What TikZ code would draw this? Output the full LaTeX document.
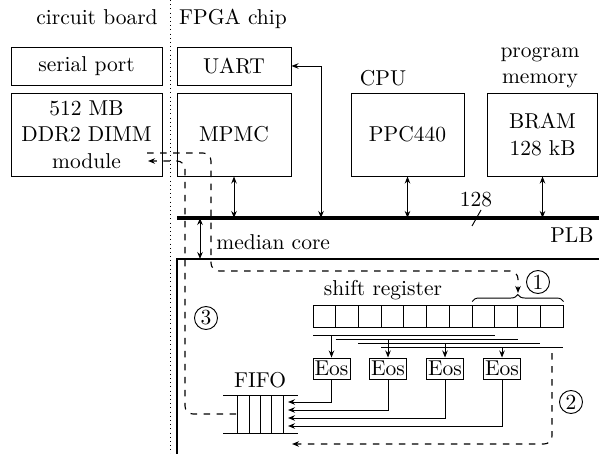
\documentclass[tikz,border=0pt]{standalone}
\usepackage{fontspec}
\setmainfont{lmroman10-regular.otf}
\usetikzlibrary{arrows.meta,decorations.pathreplacing,calc}
\begin{document}
\begin{tikzpicture}[x=1pt,y=-1pt, line width=0.95pt,
  font=\fontsize{21.5}{26.5}\selectfont,
  >={Stealth[length=7pt,width=5.5pt]},
  box/.style={draw, inner sep=0pt, align=center},
  lbl/.style={inner sep=0pt},
  dsh/.style={line width=1.1pt, dash pattern=on 6.5pt off 6.5pt},
  dots/.style={line width=0.8pt, dash pattern=on 0.8pt off 3.4pt},
  cnum/.style={draw, circle, inner sep=0pt, minimum size=23pt},
  cell/.style={draw, minimum width=22.73pt, minimum height=22pt, inner sep=0pt},
  eos/.style={draw, minimum width=37pt, minimum height=21pt, inner sep=0pt},
  bus/.style={line width=3.4pt},
  core/.style={line width=2.4pt},
]
\useasboundingbox (0,0) rectangle (599,454);

% board / chip separator
\coordinate (dotT) at (170,0);
\coordinate (dotB) at (170,454);
\draw[dots] (dotT) -- (dotB);
\node[lbl, anchor=base] (cb) at (97,25) {circuit board};
\node[lbl, anchor=base] (fc) at (233,25) {FPGA chip};

% boxes
\node[box, minimum width=151pt, minimum height=38pt] (serial) at (86.5,66) {serial port};
\node[box, minimum width=114pt, minimum height=38pt] (uart) at (234,66) {UART};
\node[box, minimum width=151pt, minimum height=83pt] (ddr) at (86.5,134.5) {512 MB\\DDR2 DIMM\\module};
\node[box, minimum width=114pt, minimum height=83pt] (mpmc) at (234,134.5) {MPMC};
\node[box, minimum width=113pt, minimum height=83pt] (ppc) at (407.5,134.5) {PPC440};
\node[box, minimum width=110pt, minimum height=83pt] (bram) at (542.5,134.5) {BRAM\\128 kB};

\node[lbl, anchor=base] (cpu) at (383,86) {CPU};
\node[lbl, anchor=base] (prog1) at (540,58) {program};
\node[lbl, anchor=base] (prog2) at (540,84) {memory};

% PLB bus
\coordinate (plbL) at (177,218);
\coordinate (plbR) at (599,218);
\draw[bus] (plbL) -- (plbR);
\node[lbl, anchor=base] (plb) at (572,243) {PLB};
\node[lbl, anchor=base] (w128) at (476,207) {128};
\coordinate (sl1) at (481,210);
\coordinate (sl2) at (472,226);
\draw (sl1) -- (sl2);

\draw[<->] (mpmc.south) -- (mpmc.south |- plbL);
\draw[<->] (ppc.south) -- (ppc.south |- plbL);
\draw[<->] (bram.south) -- (bram.south |- plbL);
\coordinate (ubus) at (321,218);
\draw[<->] (uart.east) -| (ubus);

% median core
\coordinate (mcB) at (177,454);
\coordinate (mcTL) at (177,259);
\coordinate (mcR) at (599,259);
\draw[core, line join=miter] (mcB) -- (mcTL) -- (mcR);
\coordinate (mcA) at (200,259);
\coordinate (mcP) at (200,218);
\draw[<->] (mcP) -- (mcA);
\node[lbl, anchor=base west] (mc) at (216,250) {median core};

% shift register
\foreach \i in {0,...,10}
  \node[cell] (c\i) at ({313+22.73*(\i+0.5)},316) {};
\node[lbl, anchor=base] (sr) at (383,295) {shift register};
\draw[decorate, decoration={brace, amplitude=7pt}]
  ($(c7.north west)+(0.5,-3)$) -- ($(c10.north east)+(0,-3)$);

\foreach \k in {1,...,4} {
  \coordinate (l\k) at ({313+22.73*(\k-1)},{331+4*\k});
  \coordinate (r\k) at ({313+22.73*(\k+7)},{331+4*\k});
  \draw (l\k) -- (r\k);
}

% Eos units
\foreach \k/\xx in {1/331.5,2/388,3/445,4/502} {
  \node[eos] (e\k) at (\xx,368.5) {Eos};
  \draw[->] (e\k.north |- l\k) -- (e\k.north);
}

% FIFO
\foreach \xx in {237,249,260,271,283}
  \draw (\xx,395) -- (\xx,433);
\coordinate (ffTL) at (223,395);
\coordinate (ffTR) at (298,395);
\coordinate (ffBL) at (223,433);
\coordinate (ffBR) at (298,433);
\draw (ffTL) -- (ffTR);
\draw (ffBL) -- (ffBR);
\node[lbl, anchor=base] (fifo) at (260,387) {FIFO};

\foreach \k/\yy in {1/402,2/410,3/418,4/426} {
  \coordinate (f\k) at (288,\yy);
  \draw[->] (e\k.south) |- (f\k);
}

% data flow (dashed)
\coordinate (p1s) at (147,153);
\coordinate (p1a) at (211,153);
\coordinate (p1b) at (211,271);
\coordinate (p1c) at (518,271);
\coordinate (p1e) at (518,293);
\draw[dsh,->,rounded corners=8pt] (p1s) -- (p1a) -- (p1b) -- (p1c) -- (p1e);

\coordinate (p2s) at (552,353);
\coordinate (p2a) at (552,444);
\coordinate (p2e) at (292,444);
\draw[dsh,->,rounded corners=8pt] (p2s) -- (p2a) -- (p2e);

\coordinate (p3s) at (236,414);
\coordinate (p3a) at (185,414);
\coordinate (p3b) at (185,161);
\coordinate (p3e) at (148,161);
\draw[dsh,->,rounded corners=8pt] (p3s) -- (p3a) -- (p3b) -- (p3e);

\node[cnum] (n1) at (538,282) {1};
\node[cnum] (n2) at (571,402) {2};
\node[cnum] (n3) at (206,318) {3};
\end{tikzpicture}
\end{document}
